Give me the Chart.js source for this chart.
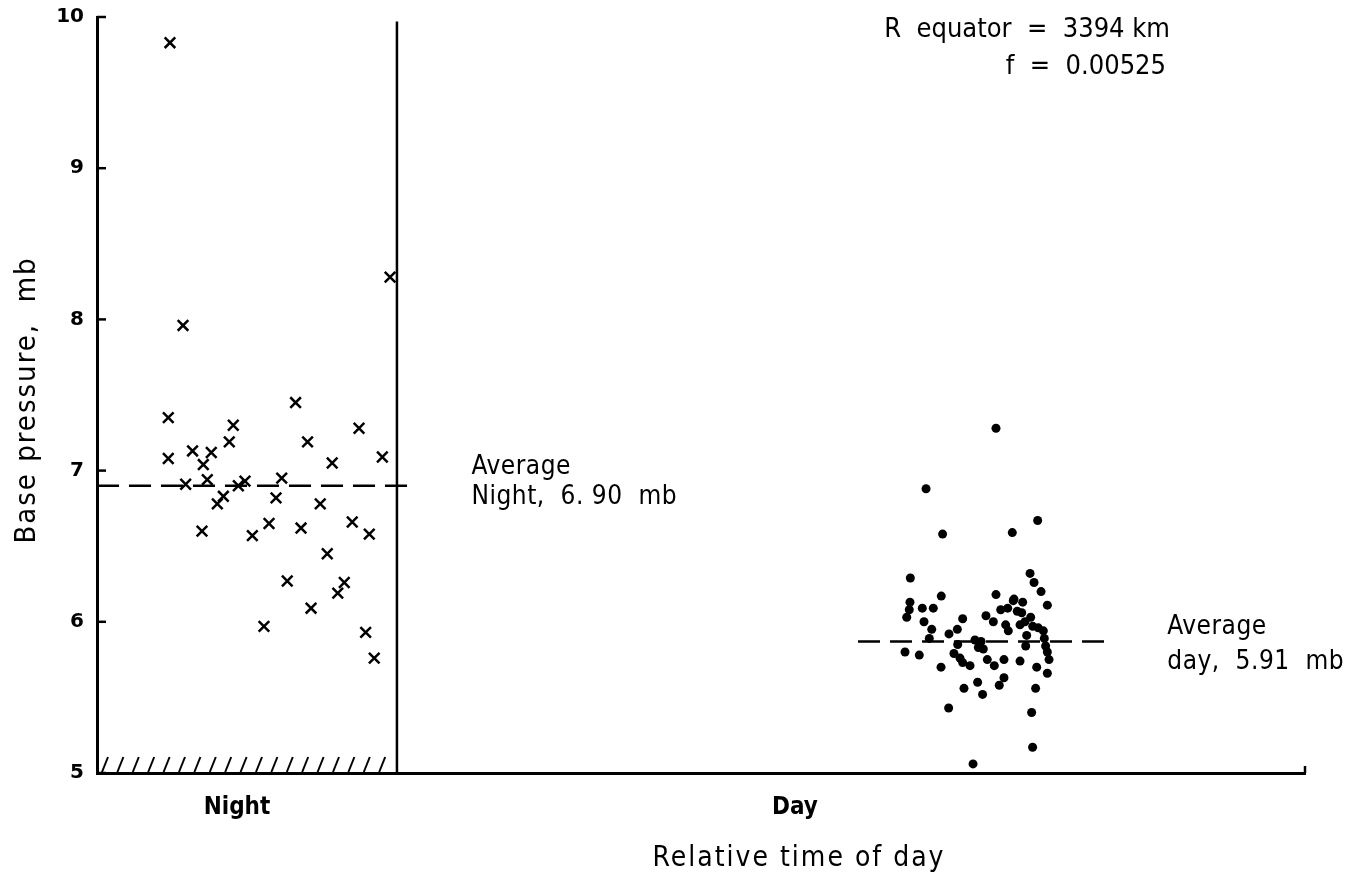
<!DOCTYPE html>
<html>
<head>
<meta charset="utf-8">
<script src="https://cdn.jsdelivr.net/npm/chart.js@4/dist/chart.umd.min.js"></script>
<style>body{margin:0;background:#fff}</style>
</head>
<body>
<canvas id="myChart" width="1362" height="880"></canvas>
<script>
// values (x is an arbitrary 0-100 "time of day" scale)
var nightX = [6.04, 7.12, 24.26, 5.90, 5.90, 7.34, 7.91, 8.80, 9.46, 9.13, 10.95, 11.28, 10.46, 9.96, 8.69, 11.70, 12.25, 12.86, 14.24,
  14.82, 15.29, 16.44, 16.89, 17.43, 18.48, 19.47, 19.06, 21.13, 21.69, 22.54, 23.62, 15.75, 20.47, 19.93, 17.72, 13.82, 22.24, 22.95];
var nightY = [9.83, 7.96, 8.28, 7.35, 7.08, 6.91, 7.13, 7.04, 7.12, 6.94, 7.19, 7.30, 6.83, 6.78, 6.60, 6.90, 6.93, 6.57, 6.65,
  6.82, 6.95, 7.45, 6.62, 7.19, 6.78, 7.05, 6.45, 6.66, 7.28, 6.58, 7.09, 6.27, 6.26, 6.19, 6.09, 5.97, 5.93, 5.76];

var dayX = [74.42, 68.63, 70.00, 75.77, 77.87, 67.33, 77.24, 77.57, 78.15, 69.89, 74.42, 75.91, 67.30, 67.24, 67.03, 68.32, 69.23,
  68.46, 69.10, 68.90, 66.89, 68.07, 69.87, 70.53, 71.22, 71.66, 71.25, 70.94, 71.44, 71.66, 72.27, 72.68, 72.96, 73.37, 71.77,
  72.90, 73.31, 70.50, 72.52, 73.59, 74.20, 73.70, 74.28, 75.08, 75.22, 75.44, 74.81, 75.39, 75.85, 76.63, 76.18, 76.55, 76.82,
  77.29, 76.41, 77.46, 76.96, 77.92, 78.34, 78.42, 76.88, 78.53, 78.67, 78.81, 78.67, 77.79, 76.41, 75.08, 74.69, 77.70, 77.37,
  77.45, 78.67, 73.18];
var dayY = [7.28, 6.88, 6.58, 6.59, 6.67, 6.29, 6.32, 6.26, 6.20, 6.17, 6.18, 6.15, 6.13, 6.08, 6.03, 6.09, 6.09,
  6.00, 5.95, 5.89, 5.80, 5.78, 5.70, 5.92, 5.95, 6.02, 5.85, 5.79, 5.76, 5.73, 5.71, 5.88, 5.83, 5.82, 5.56,
  5.60, 5.52, 5.43, 5.06, 6.04, 6.00, 5.75, 5.71, 5.75, 5.98, 5.94, 6.08, 6.09, 6.14, 6.13, 6.07, 6.06, 6.00,
  6.03, 5.98, 5.97, 5.91, 5.96, 5.94, 5.89, 5.84, 5.84, 5.80, 5.75, 5.66, 5.70, 5.74, 5.63, 5.58, 5.56, 5.40,
  5.17, 6.11, 5.87];

var avgNight = 6.90;      // dashed line, night
var avgDay = 5.87;        // dashed line as drawn, day
var nightSpan = [0, 25.7];
var daySpan = [63.0, 83.7];
var dividerX = 24.83;     // vertical line closing the night box
var xTickPos = [11.59, 57.78];
var xTickLabels = ['Night', 'Day'];

var fam = '"DejaVu Sans Condensed", sans-serif';

function pts(xs, ys) {
  return xs.map(function (x, i) { return {x: x, y: ys[i]}; });
}

// inward y ticks, hatching under the night box, titles and the text notes
var extras = {
  id: 'extras',
  afterDraw: function (chart) {
    var c = chart.ctx, xs = chart.scales.x, ys = chart.scales.y;
    c.save();
    c.strokeStyle = '#000';
    c.lineWidth = 2.5;
    for (var v = 5; v <= 10; v++) {
      var py = ys.getPixelForValue(v);
      c.beginPath(); c.moveTo(xs.left, py); c.lineTo(xs.left + 9, py); c.stroke();
    }
    // right end tick
    c.beginPath(); c.moveTo(xs.right, ys.bottom); c.lineTo(xs.right, ys.bottom - 7); c.stroke();

    // hatching
    var hx0 = xs.getPixelForValue(0) + 5, hx1 = xs.getPixelForValue(dividerX) - 6;
    c.lineWidth = 2;
    for (var hx = hx0; hx <= hx1; hx += 15.4) {
      c.beginPath(); c.moveTo(hx, ys.bottom - 1); c.lineTo(hx + 6, ys.bottom - 16); c.stroke();
    }

    c.fillStyle = '#000';
    c.textBaseline = 'middle';
    c.font = '26px ' + fam;
    c.letterSpacing = '0.5px';
    var nx = xs.getPixelForValue(31.0), ny = ys.getPixelForValue(avgNight);
    c.fillText('Average', nx, ny - 18);
    c.fillText('Night,  6. 90  mb', nx, ny + 12);
    var dx = xs.getPixelForValue(88.6), dy = ys.getPixelForValue(avgDay);
    c.fillText('Average', dx, dy - 14);
    c.fillText('day,  5.91  mb', dx, dy + 21);

    c.textAlign = 'right';
    c.letterSpacing = '0px';
    c.font = '27px ' + fam;
    c.fillText('R  equator  =  3394 km', 1170, 30);
    c.fillText('f  =  0.00525', 1166, 67);

    // axis titles
    c.textAlign = 'center';
    c.font = '28px ' + fam;
    c.letterSpacing = '2px';
    c.fillText('Relative time of day', 799, 859);
    c.translate(27, 400);
    c.rotate(-Math.PI / 2);
    c.font = '29px ' + fam;
    c.fillText('Base pressure,  mb', 0, 0);
    c.restore();
  }
};

var ctx = document.getElementById('myChart').getContext('2d');
var myChart = new Chart(ctx, {
  type: 'scatter',
  data: {
    datasets: [{
      label: 'Night',
      data: pts(nightX, nightY),
      pointStyle: 'crossRot',
      pointRadius: 7.5,
      borderColor: '#000',
      pointBorderWidth: 2.5
    }, {
      label: 'Day',
      data: pts(dayX, dayY),
      pointStyle: 'circle',
      pointRadius: 4.5,
      backgroundColor: '#000',
      borderColor: '#000',
      pointBorderWidth: 0
    }, {
      label: 'Average night',
      data: [{x: nightSpan[0], y: avgNight}, {x: nightSpan[1], y: avgNight}],
      showLine: true, pointRadius: 0, borderColor: '#000', borderWidth: 2.5, borderDash: [22, 10]
    }, {
      label: 'Average day',
      data: [{x: daySpan[0], y: avgDay}, {x: daySpan[1], y: avgDay}],
      showLine: true, pointRadius: 0, borderColor: '#000', borderWidth: 2.5, borderDash: [22, 10]
    }, {
      label: 'divider',
      data: [{x: dividerX, y: 5}, {x: dividerX, y: 9.97}],
      showLine: true, pointRadius: 0, borderColor: '#000', borderWidth: 2.5
    }]
  },
  options: {
    responsive: false,
    animation: false,
    layout: {padding: {top: 17, right: 57, left: 0, bottom: 0}},
    plugins: {legend: {display: false}, tooltip: {enabled: false}},
    scales: {
      x: {
        type: 'linear', min: 0, max: 100,
        afterFit: function (s) { s.height = 107; },
        afterBuildTicks: function (s) { s.ticks = xTickPos.map(function (v) { return {value: v}; }); },
        grid: {display: false},
        border: {color: '#000', width: 3},
        ticks: {
          color: '#000', padding: 12, maxRotation: 0, autoSkip: false,
          font: {family: fam, size: 24, weight: 'bold'},
          callback: function (v, i) { return xTickLabels[i]; }
        }
      },
      y: {
        min: 5, max: 10,
        afterFit: function (s) { s.width = 97; },
        grid: {display: false},
        border: {color: '#000', width: 3},
        ticks: {stepSize: 1, color: '#000', padding: 5, font: {family: 'DejaVu Sans', size: 20, weight: 'bold'}}
      }
    }
  },
  plugins: [extras]
});
</script>
</body>
</html>
